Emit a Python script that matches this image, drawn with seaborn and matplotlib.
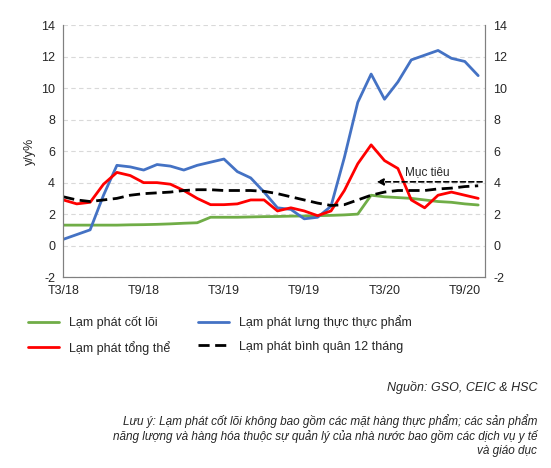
import numpy as np
import pandas as pd
import seaborn as sns
import matplotlib.pyplot as plt
from matplotlib.lines import Line2D

months = list(range(32))
tick_pos = [0, 6, 12, 18, 24, 30]
tick_labels = ["T3/18", "T9/18", "T3/19", "T9/19", "T3/20", "T9/20"]

core = [1.3, 1.3, 1.3, 1.3, 1.3, 1.32, 1.33, 1.35, 1.38, 1.42, 1.45, 1.8, 1.8, 1.8, 1.82, 1.84,
        1.85, 1.87, 1.88, 1.9, 1.92, 1.95, 2.0, 3.2, 3.1, 3.05, 3.0, 2.9, 2.8, 2.75, 2.65, 2.58]
food = [0.4, 0.7, 1.0, 3.2, 5.1, 5.0, 4.8, 5.15, 5.05, 4.8, 5.1, 5.3, 5.5, 4.7, 4.3, 3.4,
        2.4, 2.3, 1.7, 1.8, 2.5, 5.6, 9.1, 10.9, 9.3, 10.4, 11.8, 12.1, 12.4, 11.9, 11.7, 10.8]
headline = [2.9, 2.65, 2.75, 3.9, 4.65, 4.45, 4.0, 4.0, 3.9, 3.5, 3.0, 2.6, 2.6, 2.65, 2.9, 2.9,
            2.2, 2.4, 2.2, 1.9, 2.2, 3.5, 5.2, 6.4, 5.4, 4.9, 2.9, 2.4, 3.2, 3.4, 3.2, 3.0]
avg12 = [3.1, 2.9, 2.8, 2.9, 3.0, 3.2, 3.3, 3.35, 3.4, 3.5, 3.55, 3.55, 3.5, 3.5, 3.5, 3.45,
         3.3, 3.1, 2.9, 2.7, 2.55, 2.6, 2.9, 3.2, 3.4, 3.5, 3.5, 3.5, 3.6, 3.65, 3.75, 3.8]

df = pd.DataFrame({"m": months, "core": core, "food": food, "head": headline, "avg": avg12})

sns.set_style("white")
plt.rcParams["font.family"] = ["Liberation Sans", "DejaVu Sans"]
plt.rcParams["axes.unicode_minus"] = False

fig = plt.figure(figsize=(5.51, 4.68), dpi=100)
ax = fig.add_axes([0.115, 0.408, 0.765, 0.538])

sns.lineplot(data=df, x="m", y="core", ax=ax, color="#70ad47", lw=2)
sns.lineplot(data=df, x="m", y="food", ax=ax, color="#4472c4", lw=2)
sns.lineplot(data=df, x="m", y="head", ax=ax, color="#ff0000", lw=2)
sns.lineplot(data=df, x="m", y="avg", ax=ax, color="black", lw=2, linestyle=(0, (4, 2)))

ax.set_xlim(0, 31.5)
ax.set_ylim(-2, 14)
ax.set_yticks(range(-2, 15, 2))
ax.yaxis.grid(True, color="#d9d9d9", linestyle=(0, (4, 3)), lw=0.8)
ax.set_xticks(months, minor=True)
ax.set_xticks(tick_pos)
ax.set_xticklabels(tick_labels)
ax.tick_params(axis="x", which="both", direction="in", length=4, color="#808080", labelsize=9, pad=6)
ax.tick_params(axis="y", labelsize=9, length=0, pad=6)
ax.set_xlabel("")
ax.set_ylabel("y/y%", fontsize=9)
ax2 = ax.twinx()
ax2.set_ylim(-2, 14)
ax2.set_yticks(range(-2, 15, 2))
ax2.tick_params(axis="y", labelsize=9, length=0, pad=6)
for a in (ax, ax2):
    a.spines["top"].set_visible(False)
    for s in ("left", "right", "bottom"):
        a.spines[s].set_color("#808080")

ax.annotate("", xy=(23.2, 4.05), xytext=(31.5, 4.05),
            arrowprops=dict(arrowstyle="-|>", linestyle=(0, (3, 2)), color="black", lw=1.2))
ax.text(25.5, 4.45, "Mục tiêu", fontsize=8.5)

h_core = Line2D([], [], color="#70ad47", lw=2)
h_food = Line2D([], [], color="#4472c4", lw=2)
h_head = Line2D([], [], color="#ff0000", lw=2)
h_avg = Line2D([], [], color="black", lw=2, linestyle=(0, (4, 2)))
fig.legend([h_core, h_head, h_food, h_avg],
           ["Lạm phát cốt lõi", "Lạm phát tổng thể",
            "Lạm phát lưng thực thực phẩm", "Lạm phát bình quân 12 tháng"],
           ncol=2, loc="upper left", bbox_to_anchor=(0.03, 0.35),
           frameon=False, fontsize=9, handlelength=2.5, columnspacing=2.2, labelspacing=0.9)

fig.text(0.975, 0.165, "Nguồn: GSO, CEIC & HSC", ha="right", fontsize=9, style="italic")
fig.text(0.975, 0.03, "Lưu ý: Lạm phát cốt lõi không bao gồm các mặt hàng thực phẩm; các sản phẩm\n"
         "năng lượng và hàng hóa thuộc sự quản lý của nhà nước bao gồm các dịch vụ y tế\n"
         "và giáo dục", ha="right", fontsize=8.5, style="italic", multialignment="right")

fig.savefig("out.png", dpi=100)
